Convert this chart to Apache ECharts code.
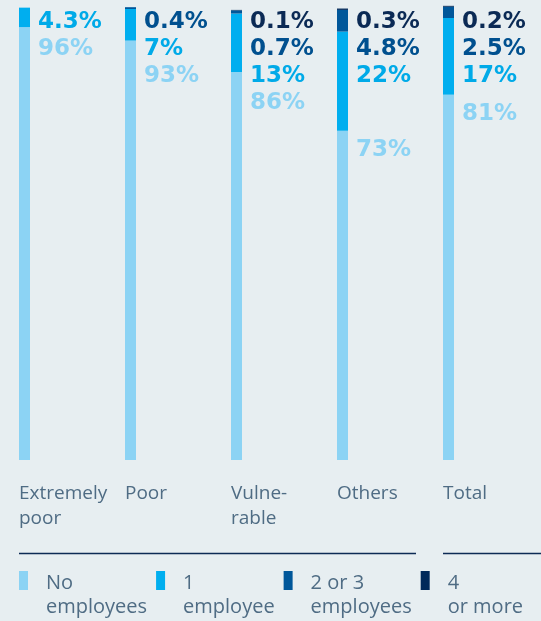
<!DOCTYPE html>
<html>
<head>
<meta charset="utf-8">
<script src="https://cdn.jsdelivr.net/npm/echarts@6/dist/echarts.min.js"></script>
<style>
html,body{margin:0;padding:0;background:#E7EEF1;}
#chart{width:541px;height:621px;}
</style>
</head>
<body>
<div id="chart"></div>
<script>
// ---- data ----
const categories = ['Extremely\npoor', 'Poor', 'Vulne-\nrable', 'Others', 'Total'];
const seriesNames = ['No\nemployees', '1\nemployee', '2 or 3\nemployees', '4\nor more'];
const noEmployees = [96, 93, 86, 73, 81];
const oneEmployee = [4.3, 7, 13, 22, 17];
const twoThreeEmployees = [null, 0.4, 0.7, 4.8, 2.5];
const fourOrMore = [null, null, 0.1, 0.3, 0.2];

const values = [noEmployees, oneEmployee, twoThreeEmployees, fourOrMore];
const colors = ['#8CD3F4', '#00AEEF', '#00579A', '#00295A'];
const labelColors = ['#8CD3F4', '#00AAE8', '#00508F', '#0B2A55'];
const textColor = '#4F6C84';

const chart = echarts.init(document.getElementById('chart'), null, {renderer: 'canvas'});

function makeSeries(offsets) {
  return values.map((arr, s) => ({
    name: seriesNames[s],
    type: 'bar',
    stack: 'total',
    xAxisIndex: 0,
    yAxisIndex: 0,
    barWidth: 11,
    clip: false,
    itemStyle: {color: colors[s]},
    emphasis: {disabled: true},
    label: {
      show: true,
      formatter: p => p.value + '%',
      fontFamily: 'DejaVu Sans',
      fontWeight: 'bold',
      fontSize: 23,
      color: labelColors[s],
      align: 'left',
      verticalAlign: 'middle'
    },
    data: arr.map((v, i) => {
      if (v == null) return null;
      const o = offsets ? offsets[s][i] : 0;
      return {value: v, label: {position: [19, o]}};
    })
  }));
}

const option = {
  backgroundColor: '#E7EEF1',
  animation: false,
  grid: [
    {left: 24.5, right: 92.5, top: 9, bottom: 161},
    {left: 19, right: 98, top: 9, bottom: 161}
  ],
  xAxis: [
    {type: 'category', gridIndex: 0, data: categories, boundaryGap: false,
     axisLine: {show: false}, axisTick: {show: false}, axisLabel: {show: false}, splitLine: {show: false}},
    {type: 'category', gridIndex: 1, data: categories, boundaryGap: false,
     axisLine: {show: false}, axisTick: {show: false}, splitLine: {show: false},
     axisLabel: {show: true, align: 'left', margin: 21, fontFamily: 'Open Sans', fontSize: 19,
                 lineHeight: 25, color: textColor, interval: 0}}
  ],
  yAxis: [
    {type: 'value', gridIndex: 0, min: 0, max: 100, show: false},
    {type: 'value', gridIndex: 1, min: 0, max: 100, show: false}
  ],
  legend: {
    left: 19, top: 542, padding: 0,
    orient: 'horizontal',
    itemWidth: 9, itemHeight: 19, itemGap: 9,
    icon: 'rect',
    selectedMode: false,
    data: seriesNames,
    formatter: name => '{s| }\n' + name,
    textStyle: {fontFamily: 'Open Sans', fontSize: 20, lineHeight: 24, color: textColor, padding: [0, 0, 0, 13],
                rich: {s: {fontSize: 2, lineHeight: 29}}}
  },
  graphic: [
    {type: 'line', shape: {x1: 19, y1: 553.5, x2: 416, y2: 553.5}, style: {stroke: '#0D2B55', lineWidth: 1.3}},
    {type: 'line', shape: {x1: 443, y1: 553.5, x2: 541, y2: 553.5}, style: {stroke: '#0D2B55', lineWidth: 1.3}}
  ],
  series: makeSeries(null)
};
chart.setOption(option);

// compute label offsets from the library's scale
const topPix = chart.convertToPixel({xAxisIndex: 0, yAxisIndex: 0}, [0, 100])[1];
const offsets = values.map(a => a.map(() => 0));
for (let i = 0; i < categories.length; i++) {
  const tops = [];
  let cum = 0;
  for (let s = 0; s < values.length; s++) {
    const v = values[s][i];
    if (v != null) cum += v;
    tops[s] = chart.convertToPixel({xAxisIndex: 0, yAxisIndex: 0}, [i, cum])[1];
  }
  let prev = null;
  for (let s = values.length - 1; s >= 0; s--) {
    const v = values[s][i];
    if (v == null) continue;
    let c;
    if (prev === null) c = topPix + 13;
    else c = Math.max(prev + 27, tops[s] + 19);
    offsets[s][i] = c - tops[s];
    prev = c;
  }
}
chart.setOption({series: makeSeries(offsets)});
</script>
</body>
</html>
